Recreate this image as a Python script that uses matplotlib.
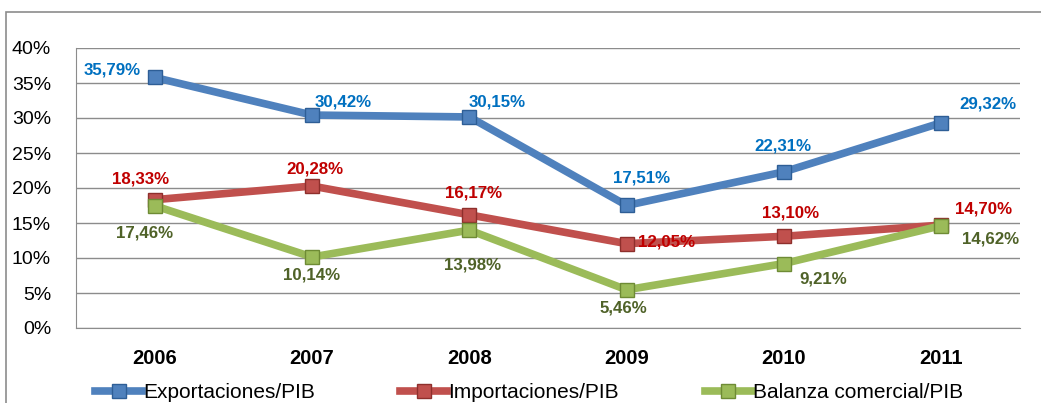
import numpy as np
import matplotlib.pyplot as plt
from matplotlib.patches import Rectangle
from matplotlib.ticker import FuncFormatter

plt.rcParams['font.family'] = ['Liberation Sans', 'DejaVu Sans']

years = ['2006', '2007', '2008', '2009', '2010', '2011']
exportaciones = [35.79, 30.42, 30.15, 17.51, 22.31, 29.32]
importaciones = [18.33, 20.28, 16.17, 12.05, 13.10, 14.70]
balanza = [17.46, 10.14, 13.98, 5.46, 9.21, 14.62]
names = ['Exportaciones/PIB', 'Importaciones/PIB', 'Balanza comercial/PIB']

# label offsets in pixels (dx, dy)
off_exp = [(-42, 7), (31, 13), (28, 15), (15, 27), (-1, 26), (47, 19)]
off_imp = [(-14, 21), (3, 17), (4, 22), (40, 2), (7, 23), (42, 16)]
off_bal = [(-10, -27), (0, -18), (3, -35), (-3, -18), (39, -15), (49, -13)]

fig = plt.figure(figsize=(10.41, 4.03), dpi=100)
ax = fig.add_axes([76/1041, 1-328/403, (1020-76)/1041, (328-48)/403])

x = np.arange(len(years))
series = [
    (exportaciones, '#4F81BD', '#2E5E96', '#0070C0', off_exp),
    (importaciones, '#C0504D', '#8E2F2C', '#C00000', off_imp),
    (balanza, '#9BBB59', '#6E8B35', '#4F6228', off_bal),
]
for (vals, col, edge, tcol, offs), name in zip(series, names):
    ax.plot(x, vals, color=col, lw=5.5, marker='s', ms=10, mfc=col, mec=edge,
            mew=1, label=name, zorder=3)
    for xi, v, (dx, dy) in zip(x, vals, offs):
        ax.annotate(f'{v:.2f}%'.replace('.', ','), (xi, v), xytext=(dx, dy),
                    textcoords='offset pixels', ha='center', va='center',
                    color=tcol, fontsize=12.2, fontweight='bold', zorder=4)

ax.set_xlim(-0.5, 5.5)
ax.set_ylim(0, 40)
ax.set_yticks(np.arange(0, 41, 5))
ax.yaxis.set_major_formatter(FuncFormatter(lambda v, p: f'{v:.0f}%'))
ax.set_xticks(x)
ax.set_xticklabels(years, fontweight='bold', fontsize=14.5)
ax.tick_params(axis='y', labelsize=14, length=0, pad=18)
ax.tick_params(axis='x', length=0, pad=15)
ax.grid(axis='y', color='#8C8C8C', lw=1)
ax.set_axisbelow(True)
for s in ['top', 'right']:
    ax.spines[s].set_visible(False)
for s in ['left', 'bottom']:
    ax.spines[s].set_color('#8C8C8C')

fig.legend(loc='center left', bbox_to_anchor=(95/1041, 1-393/403), ncol=3,
           frameon=False, fontsize=15, handlelength=2.26, handletextpad=0.05,
           columnspacing=4.1, borderaxespad=0, borderpad=0)

fig.patches.append(Rectangle((6/1041, -0.1), 1.1, 1-12/403+0.1,
                             transform=fig.transFigure, fill=False,
                             edgecolor='#8C8C8C', lw=1.2))

fig.savefig('out.png', dpi=100)
